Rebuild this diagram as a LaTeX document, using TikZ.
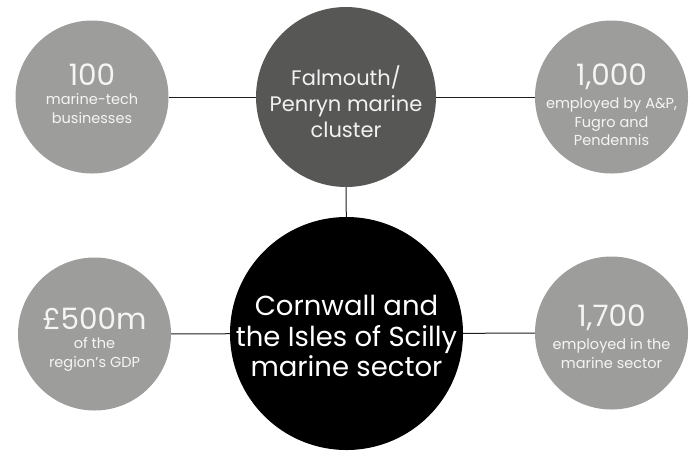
\documentclass[tikz,border=0pt]{standalone}
\usepackage{fontspec}
\setmainfont{Poppins}
\usetikzlibrary{positioning}
\definecolor{factgrey}{HTML}{9D9D9C}
\definecolor{hubgrey}{HTML}{575756}
\definecolor{linkgrey}{HTML}{1D1D1B}
\def\factsize{153pt}
\def\numfont{\fontsize{29.5}{30}\selectfont}
\def\descfont{\fontsize{14.5}{18.7}\selectfont}
\tikzset{
  disc/.style={circle,inner sep=0pt,draw=none,align=center,text=white},
  fact/.style={disc,fill=factgrey,minimum size=\factsize},
  hub/.style={disc,fill=hubgrey,minimum size=180pt},
  sector/.style={disc,fill=black,minimum size=233pt},
  hubtext/.style={disc,font=\fontsize{21}{26}\selectfont,text=white!95!black},
  sectortext/.style={disc,font=\fontsize{27.5}{30.5}\selectfont},
  num/.style={inner sep=0pt,anchor=base,text=white!96!black,font=\numfont},
  desc/.style={inner sep=0pt,align=center,text=white!96!black,font=\descfont},
  link/.style={draw=linkgrey,line width=1pt}
}
\begin{document}
\begin{tikzpicture}[x=1pt,y=-1pt]
\useasboundingbox (0,0) rectangle (692,451);
% the two main circles
\node[hub] (falmouth) at (346,97) {};
\node[sector] (cornwall) at (346.5,333.5) {};
\node[hubtext] (falmouth-txt) at (346,102) {Falmouth/\\Penryn marine\\cluster};
\node[sectortext] (cornwall-txt) at (346.5,336) {Cornwall and\\the Isles of Scilly\\marine sector};
% the four figures
\foreach \name/\x/\y/\dy/\num/\txt in {%
    tech/92/97/12/100/{marine-tech\\businesses},%
    yards/611.5/97/12/{1,000}/{employed by A\&P,\\Fugro and\\Pendennis},%
    gdp/94.5/334/5/{£500m}/{of the\\region’s GDP},%
    jobs/611.5/333/7/{1,700}/{employed in the\\marine sector}%
}{
    \node[fact] (\name) at (\x,\y) {};
    \node[num] (\name-num) at (\x,\y-\dy) {\num};
    \node[desc,below=8pt of \name-num] (\name-desc) {\txt};
}
% connectors
\draw[link] (tech) -- (falmouth);
\draw[link] (falmouth) -- (yards);
\draw[link] (falmouth) -- (cornwall);
\draw[link] (gdp) -- (cornwall);
\draw[link] (cornwall) -- (jobs);
\end{tikzpicture}
\end{document}
